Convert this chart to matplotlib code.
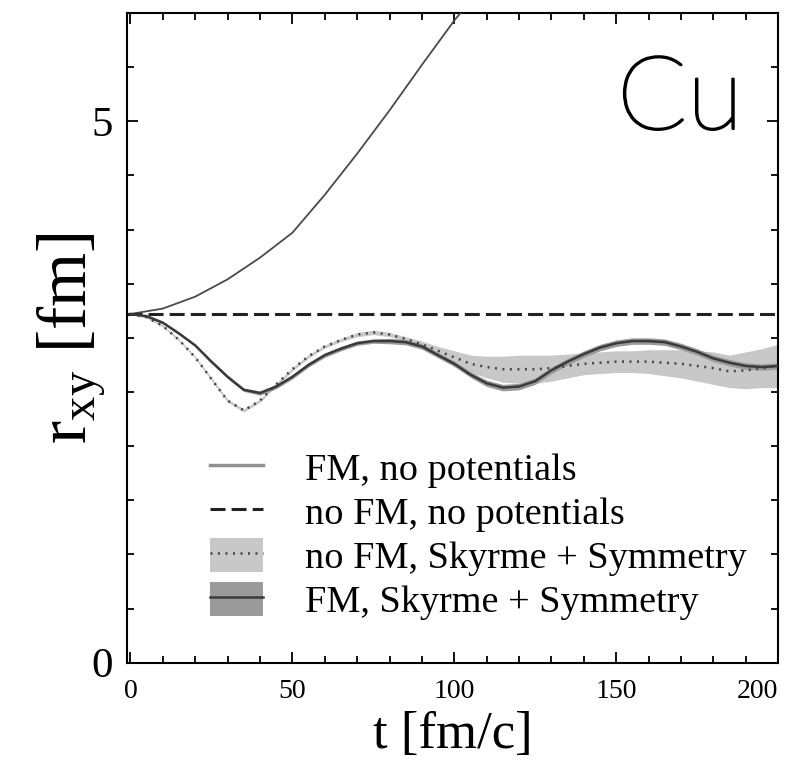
#!/usr/bin/env python3
"""r_xy vs t for Cu: FM / no FM, with and without potentials."""
import numpy as np
import matplotlib
matplotlib.use('Agg')
import matplotlib.pyplot as plt
import matplotlib.patheffects as pe
from matplotlib.lines import Line2D
from matplotlib.patches import Patch
from matplotlib.ticker import MultipleLocator

matplotlib.rcParams.update({
    'font.family': 'serif',
    'font.serif': ['Liberation Serif', 'DejaVu Serif'],
    'mathtext.fontset': 'custom',
    'mathtext.rm': 'Liberation Serif',
    'mathtext.it': 'Liberation Serif:italic',
    'axes.linewidth': 1.5,
})

# free expansion, FM, no potentials (leaves the frame at the top)
T_FREE = [0, 10, 20, 30, 40, 50, 60, 70, 80, 90, 100, 106]
R_FREE = [3.22, 3.27, 3.38, 3.54, 3.74, 3.97, 4.32, 4.70, 5.10, 5.52, 5.93, 6.15]

# no FM, no potentials
R_NOFM_FREE = 3.22

T = [0, 5, 10, 15, 20, 25, 30, 35, 40, 45, 50, 55, 60, 65, 70, 75, 80, 85, 90, 95,
     100, 105, 110, 115, 120, 125, 130, 135, 140, 145, 150, 155, 160, 165, 170, 175,
     180, 185, 190, 195, 200]

# FM, Skyrme + Symmetry
R_FM_SKY = [3.22, 3.20, 3.14, 3.04, 2.93, 2.78, 2.64, 2.52, 2.49, 2.55, 2.64, 2.75,
            2.84, 2.90, 2.95, 2.97, 2.97, 2.96, 2.92, 2.84, 2.76, 2.66, 2.58, 2.54,
            2.55, 2.60, 2.70, 2.78, 2.85, 2.91, 2.95, 2.97, 2.97, 2.96, 2.92, 2.87,
            2.81, 2.77, 2.74, 2.73, 2.74]
ERR_FM_SKY = [0.0, 0.01, 0.01, 0.01, 0.01, 0.015, 0.015, 0.015, 0.02, 0.02, 0.02, 0.02,
              0.02, 0.02, 0.02, 0.02, 0.025, 0.025, 0.025, 0.025, 0.025, 0.025, 0.03,
              0.03, 0.03, 0.03, 0.03, 0.03, 0.03, 0.03, 0.03, 0.03, 0.03, 0.03, 0.03,
              0.03, 0.03, 0.03, 0.03, 0.03, 0.03]

# no FM, Skyrme + Symmetry
R_NOFM_SKY = [3.22, 3.19, 3.11, 2.98, 2.82, 2.62, 2.42, 2.33, 2.42, 2.57, 2.71, 2.83,
              2.92, 2.98, 3.03, 3.05, 3.03, 2.99, 2.94, 2.88, 2.82, 2.76, 2.73, 2.71,
              2.71, 2.71, 2.72, 2.74, 2.76, 2.77, 2.78, 2.78, 2.78, 2.77, 2.76, 2.74,
              2.72, 2.69, 2.70, 2.72, 2.74]
ERR_NOFM_SKY = [0.0, 0.01, 0.01, 0.01, 0.01, 0.015, 0.015, 0.015, 0.015, 0.015, 0.015,
                0.015, 0.015, 0.015, 0.02, 0.02, 0.02, 0.02, 0.03, 0.04, 0.06, 0.08,
                0.10, 0.12, 0.13, 0.13, 0.12, 0.11, 0.10, 0.10, 0.10, 0.10, 0.11, 0.12,
                0.13, 0.14, 0.15, 0.15, 0.17, 0.18, 0.20]

X_TICKS = [0, 50, 100, 150, 200]
LABELS = ['FM, no potentials', 'no FM, no potentials',
          'no FM, Skyrme + Symmetry', 'FM, Skyrme + Symmetry']


def main():
    t = np.array(T)
    fm, efm = np.array(R_FM_SKY), np.array(ERR_FM_SKY)
    nf, enf = np.array(R_NOFM_SKY), np.array(ERR_NOFM_SKY)

    fig = plt.figure(figsize=(7.9, 7.6), dpi=100)
    ax = fig.add_axes([0.161, 0.128, 0.824, 0.855])

    ax.fill_between(t, nf - enf, nf + enf, color='#c8c8c8', lw=0, zorder=1)
    ax.fill_between(t, fm - efm, fm + efm, color='#9a9a9a', lw=0, zorder=2)

    ax.plot(T_FREE, R_FREE, color='#4a4a4a', lw=1.3, zorder=3)
    l_dash = ax.axhline(R_NOFM_FREE, color='#222222', lw=2.2,
                        linestyle=(0, (4.9, 2.0)), zorder=3)
    l_dot, = ax.plot(t, nf, color='#444444', lw=1.8, linestyle=(0, (0.8, 2.2)), zorder=4)
    l_fm, = ax.plot(t, fm, color='#3a3a3a', lw=1.8, zorder=5)

    ax.set_xticks(X_TICKS, [str(v) for v in X_TICKS])
    ax.set_xlim(-1, 200)
    ax.set_ylim(0, 6)
    ax.xaxis.set_minor_locator(MultipleLocator(10))
    ax.yaxis.set_major_locator(MultipleLocator(5))
    ax.yaxis.set_minor_locator(MultipleLocator(0.5))
    ax.tick_params(which='both', direction='in', top=True, right=True, width=1.3)
    ax.tick_params(which='major', length=8)
    ax.tick_params(which='minor', length=5)
    ax.tick_params(axis='x', labelsize=20, pad=12)
    ax.tick_params(axis='y', labelsize=31, pad=10)
    # keep the last x label inside the picture
    ax.xaxis.get_major_ticks()[-1].label1.set_horizontalalignment('right')

    ax.set_xlabel('t [fm/c]', fontsize=38, labelpad=5)
    ax.set_ylabel(r'r$_{\mathrm{xy}}$ [fm]', fontsize=50, labelpad=-12)

    ax.text(0.946, 0.864, 'Cu', transform=ax.transAxes, ha='right', va='center',
            fontsize=74, family=['Lato', 'Liberation Sans'], fontweight='light',
            path_effects=[pe.withStroke(linewidth=1.6, foreground='black')])

    h_free = Line2D([], [], color='#909090', lw=2.5)
    p_nf = Patch(facecolor='#c8c8c8', edgecolor='none')
    p_fm = Patch(facecolor='#9a9a9a', edgecolor='none')
    ax.legend([h_free, l_dash, (p_nf, l_dot), (p_fm, l_fm)], LABELS,
              loc='upper left', bbox_to_anchor=(0.127, 0.327), frameon=False,
              fontsize=27.5, handlelength=1.4, handleheight=1.0, handletextpad=1.1,
              labelspacing=0.15, borderaxespad=0, borderpad=0)

    fig.savefig('out.png', dpi=100)
    plt.close(fig)


if __name__ == '__main__':
    main()
